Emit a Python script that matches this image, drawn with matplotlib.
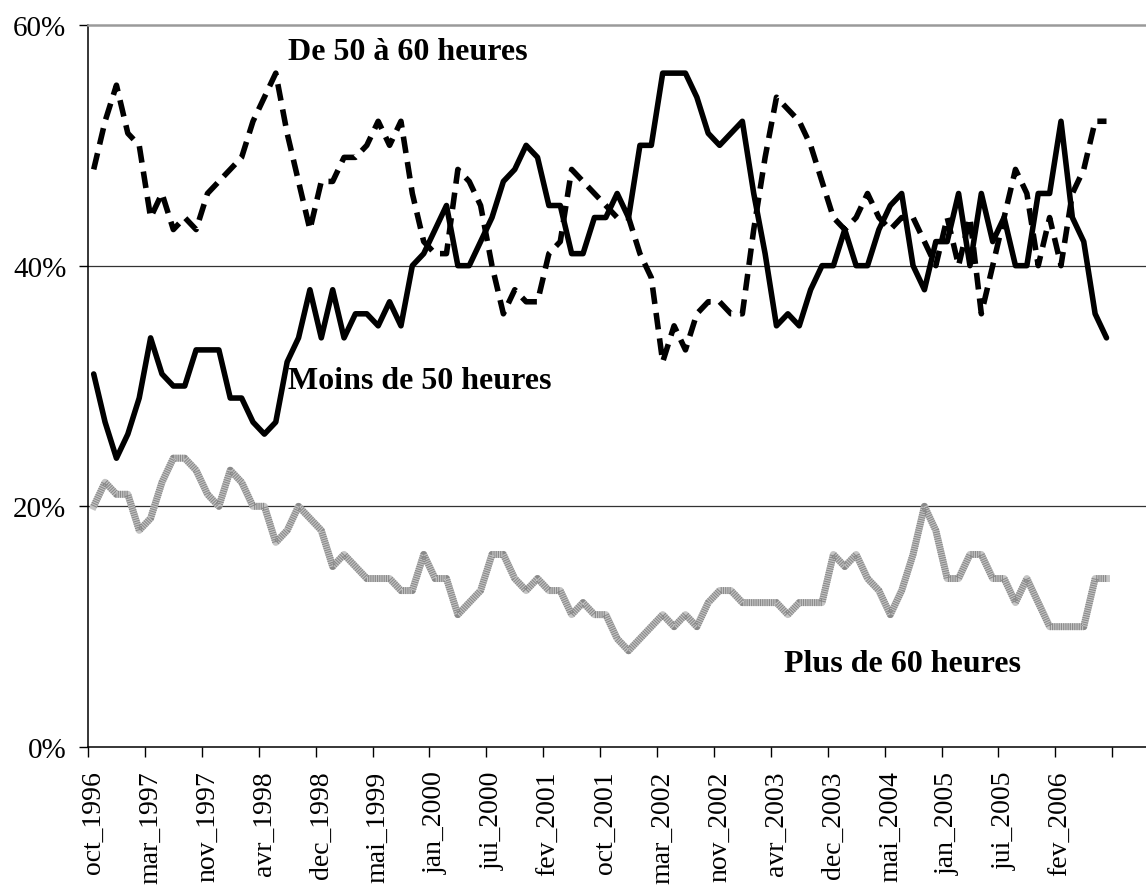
import matplotlib.pyplot as plt
import numpy as np

plt.rcParams['font.family'] = ['Liberation Serif', 'DejaVu Serif']
plt.rcParams['lines.scale_dashes'] = False

# labels shown every 5 categories
tick_labels = ['oct_1996', 'mar_1997', 'nov_1997', 'avr_1998', 'dec_1998', 'mai_1999',
               'jan_2000', 'jui_2000', 'fev_2001', 'oct_2001', 'mar_2002', 'nov_2002',
               'avr_2003', 'dec_2003', 'mai_2004', 'jan_2005', 'jui_2005', 'fev_2006']

# part of respondents (%) by weekly hours
moins_50 = [31, 27, 24, 26, 29, 34, 31, 30, 30, 33,
            33, 33, 29, 29, 27, 26, 27, 32, 34, 38,
            34, 38, 34, 36, 36, 35, 37, 35, 40, 41,
            43, 45, 40, 40, 42, 44, 47, 48, 50, 49,
            45, 45, 41, 41, 44, 44, 46, 44, 50, 50,
            56, 56, 56, 54, 51, 50, 51, 52, 46, 41,
            35, 36, 35, 38, 40, 40, 43, 40, 40, 43,
            45, 46, 40, 38, 42, 42, 46, 40, 46, 42,
            44, 40, 40, 46, 46, 52, 44, 42, 36, 34]

de_50_60 = [48, 52, 55, 51, 50, 44, 46, 43, 44, 43,
            46, 47, 48, 49, 52, 54, 56, 51, 47, 43,
            47, 47, 49, 49, 50, 52, 50, 52, 46, 42,
            41, 41, 48, 47, 45, 40, 36, 38, 37, 37,
            41, 42, 48, 47, 46, 45, 44, 44, 41, 39,
            32, 35, 33, 36, 37, 37, 36, 36, 43, 49,
            54, 53, 52, 50, 47, 44, 43, 44, 46, 44,
            43, 44, 44, 42, 40, 44, 40, 44, 36, 40,
            44, 48, 46, 40, 44, 40, 46, 48, 52, 52]

plus_60 = [20, 22, 21, 21, 18, 19, 22, 24, 24, 23,
           21, 20, 23, 22, 20, 20, 17, 18, 20, 19,
           18, 15, 16, 15, 14, 14, 14, 13, 13, 16,
           14, 14, 11, 12, 13, 16, 16, 14, 13, 14,
           13, 13, 11, 12, 11, 11, 9, 8, 9, 10,
           11, 10, 11, 10, 12, 13, 13, 12, 12, 12,
           12, 11, 12, 12, 12, 16, 15, 16, 14, 13,
           11, 13, 16, 20, 18, 14, 14, 16, 16, 14,
           14, 12, 14, 12, 10, 10, 10, 10, 14, 14]

x = np.arange(len(moins_50))

fig = plt.figure(figsize=(11.46, 8.87), dpi=100)
ax = fig.add_axes([88 / 1146, 139 / 887, 1058 / 1146, 722 / 887])

# stippled grey band: light base + darker dot texture
ax.plot(x, plus_60, color='#c4c4c4', lw=5, solid_joinstyle='round')
ax.plot(x, plus_60, color='#8a8a8a', lw=5, dashes=(0.8, 0.8), dash_capstyle='butt')
ax.plot(x, de_50_60, color='black', lw=4, dashes=(12, 6.5), dash_capstyle='butt')
ax.plot(x, moins_50, color='black', lw=4, solid_joinstyle='round', solid_capstyle='round')

ax.set_ylim(0, 60)
ax.set_xlim(-0.5, 92.47)

ax.set_yticks([0, 20, 40, 60])
ax.set_yticklabels(['0%', '20%', '40%', '60%'])
for v in [20, 40]:
    ax.axhline(v, color='#333333', lw=0.9, zorder=0)

ax.set_xticks(np.arange(-0.5, 90, 5))
ax.set_xticklabels([])
ax.set_xticks(np.arange(0, 90, 5), minor=True)
ax.set_xticklabels(tick_labels, minor=True, rotation=90, fontsize=20)
ax.tick_params(axis='x', which='major', direction='out', length=7.5, width=1)
ax.tick_params(axis='x', which='minor', length=0, pad=17)
ax.tick_params(axis='y', direction='out', length=6.5, width=1, labelsize=21, pad=9)

ax.spines['right'].set_visible(False)
ax.spines['top'].set_color('#9a9a9a')
ax.spines['top'].set_linewidth(1.8)
ax.spines['left'].set_linewidth(1.1)
ax.spines['bottom'].set_linewidth(1.1)

ax.text(17.1, 57.2, 'De 50 à 60 heures', fontsize=23, fontweight='bold', va='baseline')
ax.text(17.1, 29.8, 'Moins de 50 heures', fontsize=23, fontweight='bold', va='baseline')
ax.text(60.7, 6.3, 'Plus de 60 heures', fontsize=23, fontweight='bold', va='baseline')

fig.savefig('out.png', dpi=100)
